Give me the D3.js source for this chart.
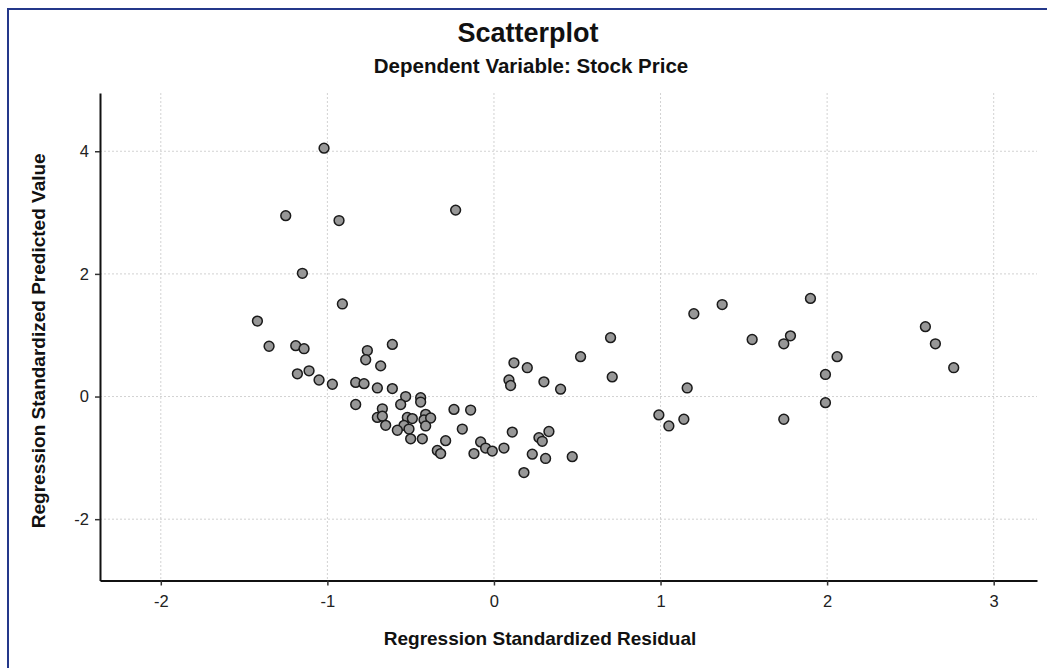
<!DOCTYPE html>
<html>
<head>
<meta charset="utf-8">
<title>Scatterplot</title>
<script src="https://cdn.jsdelivr.net/npm/d3@7"></script>
<style>
    body { margin: 0; background: #fff; }
    svg { display: block; }
</style>
</head>
<body>
<svg id="chart"></svg>
<script>
// Regression standardized residual (x) and predicted value (y)
const residuals = [
    -1.02, -1.25, -0.93, -1.15, -0.91, -1.42, -0.23, -1.35, -1.19, -1.14,
    -0.76, -0.77, -0.61, -0.68, -1.18, -1.11, -1.05, -0.97, -0.83, -0.78,
    -0.70, -0.61, -0.53, -0.44, -0.44, -0.56, -0.83, -0.67, -0.24, -0.14,
    -0.70, -0.67, -0.52, -0.49, -0.41, -0.42, -0.38, -0.65, -0.54, -0.51,
    -0.58, -0.41, -0.19, -0.50, -0.43, -0.29, -0.34, -0.32, -0.12, -0.08,
    -0.05, -0.01, 0.06, 0.11, 0.12, 0.20, 0.09, 0.10, 0.18, 0.23,
    0.27, 0.29, 0.33, 0.31, 0.30, 0.40, 0.47, 0.52, 0.70, 0.71,
    1.20, 1.37, 1.90, 1.55, 1.78, 1.74, 2.06, 1.99, 1.16, 0.99,
    1.05, 1.14, 1.74, 1.99, 2.59, 2.65, 2.76
];
const predicted = [
    4.05, 2.95, 2.87, 2.01, 1.51, 1.23, 3.04, 0.82, 0.83, 0.78,
    0.75, 0.60, 0.85, 0.50, 0.37, 0.42, 0.27, 0.20, 0.23, 0.21,
    0.14, 0.13, 0.00, -0.02, -0.09, -0.13, -0.13, -0.20, -0.21, -0.22,
    -0.34, -0.32, -0.34, -0.36, -0.29, -0.38, -0.35, -0.47, -0.47, -0.53,
    -0.55, -0.48, -0.53, -0.69, -0.69, -0.72, -0.88, -0.93, -0.93, -0.74,
    -0.84, -0.89, -0.84, -0.58, 0.55, 0.47, 0.27, 0.18, -1.24, -0.94,
    -0.67, -0.73, -0.57, -1.01, 0.24, 0.12, -0.98, 0.65, 0.96, 0.32,
    1.35, 1.50, 1.60, 0.93, 0.99, 0.86, 0.65, 0.36, 0.14, -0.30,
    -0.48, -0.37, -0.37, -0.10, 1.14, 0.86, 0.47
];
const xTicks = [-2, -1, 0, 1, 2, 3];
const yTicks = [-2, 0, 2, 4];
const chartTitle = 'Scatterplot';
const chartSubtitle = 'Dependent Variable: Stock Price';
const xTitle = 'Regression Standardized Residual';
const yTitle = 'Regression Standardized Predicted Value';

const width = 1047;
const height = 668;
const font = '"Liberation Sans", Arial, sans-serif';

const svg = d3.select('#chart')
    .attr('width', width)
    .attr('height', height)
    .attr('font-family', font);

// Plot area edges
const plot = { left: 100, right: 1037, top: 93, bottom: 580.5 };

const x = d3.scaleLinear().domain([-2.365, 3.26]).range([plot.left, plot.right]);
const y = d3.scaleLinear().domain([-3, 4.95]).range([plot.bottom, plot.top]);

// Outer frame (only left and top edges show in the picture)
svg.append('rect')
    .attr('x', 8).attr('y', 9)
    .attr('width', 1100).attr('height', 700)
    .attr('fill', 'none')
    .attr('stroke', '#24388a')
    .attr('stroke-width', 2);

// Dotted grid lines
const grid = svg.append('g').attr('stroke', '#d2d2d2').attr('stroke-dasharray', '2,2');
grid.selectAll('line.v')
    .data(xTicks)
    .join('line')
    .attr('class', 'v')
    .attr('x1', d => x(d)).attr('x2', d => x(d))
    .attr('y1', plot.top).attr('y2', plot.bottom);
grid.selectAll('line.h')
    .data(yTicks)
    .join('line')
    .attr('class', 'h')
    .attr('x1', plot.left).attr('x2', plot.right)
    .attr('y1', d => y(d)).attr('y2', d => y(d));

// Axes, plain hyphen for negatives like the original
const xAxis = svg.append('g')
    .attr('transform', `translate(0,${plot.bottom})`)
    .call(d3.axisBottom(x).tickValues(xTicks).tickFormat(d => String(d))
        .tickSizeInner(5).tickSizeOuter(0).tickPadding(10));
const yAxis = svg.append('g')
    .attr('transform', `translate(${plot.left},0)`)
    .call(d3.axisLeft(y).tickValues(yTicks).tickFormat(d => String(d))
        .tickSizeInner(5).tickSizeOuter(0).tickPadding(6));

[xAxis, yAxis].forEach(axis => {
    axis.select('.domain').attr('stroke', '#111').attr('stroke-width', 2);
    axis.selectAll('.tick line').attr('stroke', '#333').attr('stroke-width', 1.5);
    axis.selectAll('.tick text')
        .attr('font-family', font)
        .attr('font-size', 16.5)
        .attr('fill', '#222');
});

// Points
svg.append('g')
    .selectAll('circle')
    .data(residuals.map((r, i) => ({ r, p: predicted[i] })))
    .join('circle')
    .attr('cx', d => x(d.r))
    .attr('cy', d => y(d.p))
    .attr('r', 4.9)
    .attr('fill', '#979797')
    .attr('stroke', '#1a1a1a')
    .attr('stroke-width', 1.5);

// Titles
svg.append('text')
    .attr('x', 528).attr('y', 42)
    .attr('text-anchor', 'middle')
    .attr('font-size', 27).attr('font-weight', 'bold')
    .attr('fill', '#111')
    .text(chartTitle);
svg.append('text')
    .attr('x', 531).attr('y', 73)
    .attr('text-anchor', 'middle')
    .attr('font-size', 20.5).attr('font-weight', 'bold')
    .attr('fill', '#111')
    .text(chartSubtitle);

// Axis titles
svg.append('text')
    .attr('x', 540).attr('y', 645)
    .attr('text-anchor', 'middle')
    .attr('font-size', 19).attr('font-weight', 'bold')
    .attr('fill', '#111')
    .text(xTitle);
svg.append('text')
    .attr('transform', `translate(45,${(plot.top + plot.bottom) / 2 + 4}) rotate(-90)`)
    .attr('text-anchor', 'middle')
    .attr('font-size', 19).attr('font-weight', 'bold')
    .attr('fill', '#111')
    .text(yTitle);
</script>
</body>
</html>
